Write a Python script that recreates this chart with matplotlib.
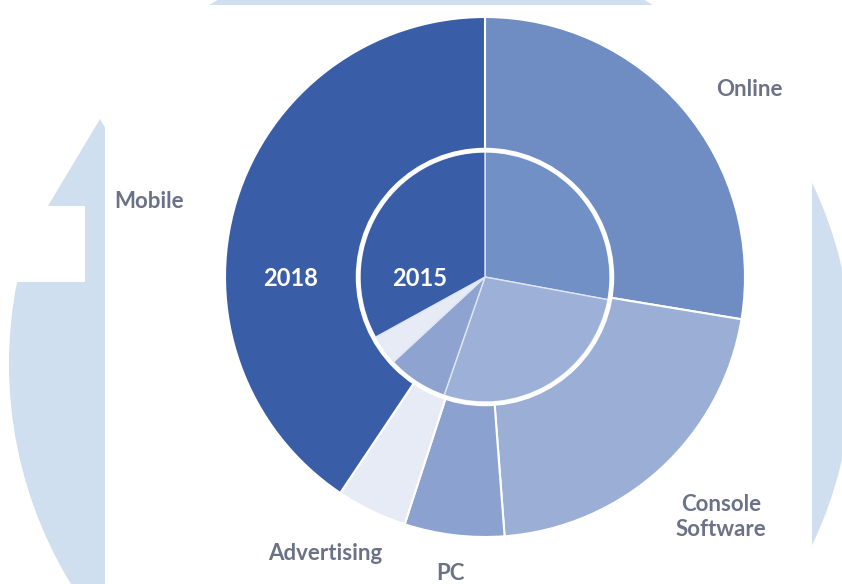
import matplotlib.pyplot as plt
from matplotlib.patches import Polygon, Rectangle, Circle

# games market share by segment, 2015 (inner) and 2018 (outer)
segments = ["Online", "Console\nSoftware", "PC", "Advertising", "Mobile"]
share_2018 = [27.6, 21.2, 6.2, 4.4, 40.6]
share_2015 = [27.9, 27.4, 7.8, 3.9, 33.0]
colors_2018 = ["#6f8cc3", "#9aaed6", "#8ba1cf", "#e6ebf5", "#3a5da8"]
colors_2015 = ["#7190c6", "#9db0d7", "#8ea3cf", "#e6ebf5", "#3a5da8"]

W, H = 842, 584
label_color = "#6b7286"
bg_blue = "#cfdff0"

fig = plt.figure(figsize=(W / 100, H / 100), dpi=100)
ax = fig.add_axes([0, 0, 1, 1])

# light circular-arrow logo behind the chart panel
ax.add_patch(Circle((431, H - 364), 422, color=bg_blue, lw=0))
ax.add_patch(Rectangle((0, H - 282), 105, 282, color="white", lw=0))
ax.add_patch(Polygon([(100, H - 119), (48, H - 206), (85, H - 206), (85, H - 290),
                      (120, H - 290), (120, H - 206), (152, H - 206)],
                     closed=True, color=bg_blue, lw=0))
ax.add_patch(Rectangle((105, 0), 707, H - 5, color="white", lw=0))

center = (485, H - 277)
ax.pie(share_2018, radius=260, center=center, colors=colors_2018,
       startangle=90, counterclock=False, frame=True,
       wedgeprops=dict(edgecolor="white", linewidth=1.5))
ax.pie(share_2015, radius=125, center=center, colors=colors_2015,
       startangle=90, counterclock=False, frame=True,
       wedgeprops=dict(edgecolor="#dfe6f3", linewidth=1.0))
ax.add_patch(Circle(center, 127, fill=False, ec="white", lw=3.2))

font = "Lato"
label_kw = dict(ha="center", va="center", fontsize=16, color=label_color,
                family=font, weight="bold")
ax.text(749, H - 89, "Online", **label_kw)
ax.text(149, H - 201, "Mobile", **label_kw)
ax.text(721, H - 517, "Console\nSoftware", linespacing=1.25, **label_kw)
ax.text(325, H - 553, "Advertising", **label_kw)
ax.text(450, H - 573, "PC", **label_kw)

year_kw = dict(ha="center", va="center", fontsize=17, color="white",
               family=font, weight="bold")
ax.text(291, H - 279, "2018", **year_kw)
ax.text(420, H - 279, "2015", **year_kw)

ax.set_xlim(0, W)
ax.set_ylim(0, H)
ax.set_aspect("auto")
ax.axis("off")

fig.savefig("out.png", dpi=100)
